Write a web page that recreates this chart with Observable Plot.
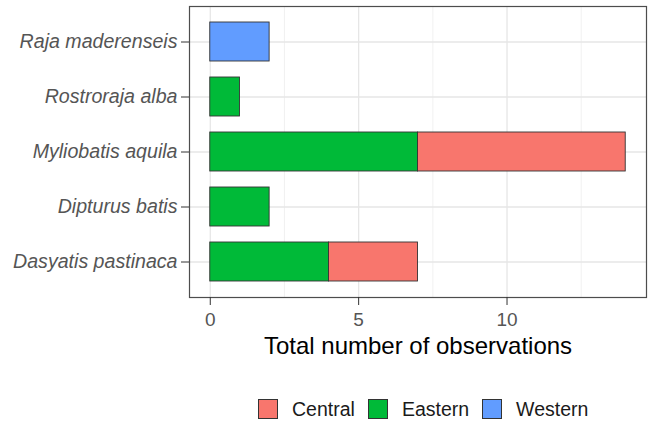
<!DOCTYPE html>
<html>
<head>
<meta charset="utf-8">
<script src="https://cdn.jsdelivr.net/npm/d3@7"></script>
<script src="https://cdn.jsdelivr.net/npm/@observablehq/plot@0.6"></script>
<style>
  html, body { margin: 0; background: #fff; font-family: "Liberation Sans", Arial, sans-serif; overflow: hidden; }
  #chart svg { display: block; }
  #chart [aria-label="y-axis tick label"] text { font-style: italic; }
  .legend { display: flex; align-items: center; height: 51px; box-sizing: border-box; padding-top: 26px; padding-left: 258px; }
  .legend .sw { width: 20px; height: 20px; box-sizing: border-box; border: 1px solid #333; }
  .legend .lab { font-size: 19.5px; color: #1a1a1a; margin-left: 14px; margin-right: 13px; line-height: 20px; }
</style>
</head>
<body>
<div id="chart"></div>
<script>
// Data
const species = ["Raja maderenseis", "Rostroraja alba", "Myliobatis aquila", "Dipturus batis", "Dasyatis pastinaca"];
const regions = ["Central", "Eastern", "Western"];
const regionColors = ["#F8766D", "#00BA38", "#619CFF"];
const easternCounts = [0, 1, 7, 2, 4];
const centralCounts = [0, 0, 7, 0, 3];
const westernCounts = [2, 0, 0, 0, 0];
const xTicks = [0, 5, 10];
const xMinor = [2.5, 7.5, 12.5];
const xTitle = "Total number of observations";

const rows = [];
species.forEach((s, i) => { if (easternCounts[i]) rows.push({species: s, region: "Eastern", n: easternCounts[i]}); });
species.forEach((s, i) => { if (centralCounts[i]) rows.push({species: s, region: "Central", n: centralCounts[i]}); });
species.forEach((s, i) => { if (westernCounts[i]) rows.push({species: s, region: "Western", n: westernCounts[i]}); });

const maxTotal = d3.max(species.map((s, i) => easternCounts[i] + centralCounts[i] + westernCounts[i]));
const pad = maxTotal * 0.05;

const chart = Plot.plot({
  width: 652,
  height: 370,
  marginLeft: 189,
  marginRight: 6,
  marginTop: 6,
  marginBottom: 73,
  style: {fontFamily: "'Liberation Sans', Arial, sans-serif", background: "#fff"},
  x: {domain: [-pad, maxTotal + pad]},
  y: {domain: species, paddingInner: 0.3, paddingOuter: 0.25},
  color: {domain: regions, range: regionColors},
  marks: [
    Plot.gridX(xMinor, {stroke: "#ebebeb", strokeOpacity: 1, strokeWidth: 0.7}),
    Plot.gridX(xTicks, {stroke: "#e6e6e6", strokeOpacity: 1, strokeWidth: 1.3}),
    Plot.gridY({stroke: "#e6e6e6", strokeOpacity: 1, strokeWidth: 1.3}),
    Plot.barX(rows, {x: "n", y: "species", fill: "region", stroke: "#333", strokeWidth: 0.9}),
    Plot.frame({stroke: "#4d4d4d", strokeWidth: 1.2}),
    Plot.axisY({tickSize: 8, tickPadding: 4, fontSize: 19.6, stroke: "#333", fill: "#555", label: null}),
    Plot.axisX(xTicks, {tickSize: 8, tickPadding: 7, fontSize: 19, stroke: "#333", fill: "#555", label: null}),
    Plot.text([xTitle], {frameAnchor: "bottom", lineAnchor: "top", dy: 39, fontSize: 24, fill: "#000"})
  ]
});
document.getElementById("chart").appendChild(chart);

// Legend
const legend = document.createElement("div");
legend.className = "legend";
regions.forEach((r, i) => {
  const sw = document.createElement("div");
  sw.className = "sw";
  sw.style.background = regionColors[i];
  const lab = document.createElement("span");
  lab.className = "lab";
  lab.textContent = r;
  legend.appendChild(sw);
  legend.appendChild(lab);
});
document.getElementById("chart").appendChild(legend);
</script>
</body>
</html>
